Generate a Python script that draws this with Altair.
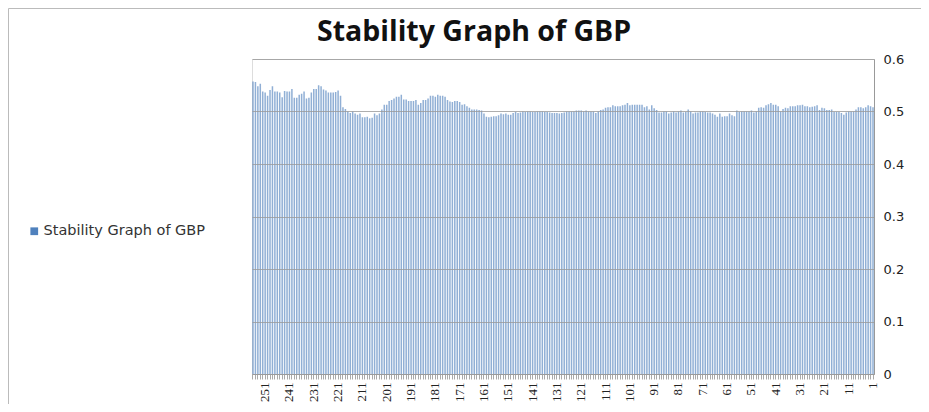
import altair as alt
import pandas as pd

# values read left-to-right (period 256 down to 1)
seg1 = [0.557, 0.556, 0.548, 0.553, 0.538, 0.536, 0.530, 0.541, 0.548, 0.538,
        0.538, 0.536, 0.527, 0.539, 0.538, 0.538, 0.543, 0.526, 0.526, 0.532,
        0.534, 0.538, 0.525, 0.526, 0.536, 0.543, 0.543, 0.550, 0.548, 0.542,
        0.540, 0.536, 0.536, 0.536, 0.537, 0.540, 0.530, 0.508, 0.505, 0.500,
        0.497, 0.500, 0.496, 0.494, 0.496, 0.489, 0.489, 0.490, 0.487, 0.488,
        0.496, 0.493, 0.496, 0.504, 0.513, 0.513, 0.520, 0.522, 0.525, 0.528,
        0.528, 0.532, 0.523, 0.523]
seg2 = [0.520, 0.520, 0.520, 0.522, 0.513, 0.516, 0.522, 0.522, 0.525, 0.530,
        0.530, 0.528, 0.532, 0.530, 0.530, 0.528, 0.522, 0.519, 0.518, 0.520,
        0.520, 0.518, 0.513, 0.514, 0.510, 0.507, 0.504, 0.504, 0.504, 0.503,
        0.502, 0.496, 0.490, 0.489, 0.490, 0.491, 0.491, 0.493, 0.496, 0.495,
        0.496, 0.494, 0.494, 0.497, 0.499, 0.497, 0.498, 0.500, 0.499, 0.500,
        0.500, 0.499, 0.499, 0.500, 0.500, 0.500, 0.499, 0.499, 0.498, 0.497,
        0.497, 0.497, 0.496, 0.497, 0.498]
seg3 = [0.500, 0.500, 0.500, 0.500, 0.502, 0.502, 0.502, 0.500, 0.502, 0.500,
        0.500, 0.500, 0.497, 0.500, 0.503, 0.504, 0.507, 0.508, 0.508, 0.512,
        0.510, 0.510, 0.510, 0.512, 0.513, 0.516, 0.512, 0.513, 0.513, 0.513,
        0.513, 0.513, 0.508, 0.510, 0.504, 0.512, 0.506, 0.503, 0.498, 0.498,
        0.500, 0.500, 0.496, 0.498, 0.500, 0.498, 0.500, 0.502, 0.498, 0.499,
        0.504, 0.500, 0.496, 0.498, 0.498, 0.500, 0.500, 0.499, 0.498, 0.498,
        0.496, 0.494, 0.490, 0.496, 0.490]
seg4 = [0.491, 0.491, 0.496, 0.493, 0.491, 0.502, 0.499, 0.500, 0.500, 0.500,
        0.500, 0.502, 0.498, 0.500, 0.507, 0.508, 0.507, 0.512, 0.514, 0.516,
        0.513, 0.513, 0.510, 0.500, 0.505, 0.507, 0.506, 0.510, 0.510, 0.510,
        0.512, 0.512, 0.513, 0.510, 0.510, 0.508, 0.509, 0.510, 0.512, 0.503,
        0.507, 0.506, 0.503, 0.503, 0.504, 0.499, 0.499, 0.499, 0.497, 0.494,
        0.498, 0.500, 0.500, 0.500, 0.504, 0.508, 0.508, 0.506, 0.508, 0.512,
        0.510, 0.508]

values = seg1 + seg2 + seg3 + seg4
n = len(values)
periods = list(range(n, 0, -1))
series_name = "Stability Graph of GBP"
chart_title = ["Stability Graph of GBP"]
y_ticks = [0, 0.1, 0.2, 0.3, 0.4, 0.5, 0.6]

df = pd.DataFrame({"period": periods, "value": values, "series": [series_name] * n})

W, H = 622, 315
PAD_L, PAD_T, PAD_R, PAD_B = 244, 51, 47, 30

bars = alt.Chart(df).mark_bar(
    fillOpacity=0.63, strokeWidth=0
).encode(
    x=alt.X("period:O", sort="descending",
            scale=alt.Scale(paddingInner=0.38, paddingOuter=0.1),
            axis=alt.Axis(title=None, labelAngle=-90,
                          labelExpr="(datum.value - 1) % 10 == 0 ? datum.label : ''",
                          labelFont="Liberation Serif", labelFontSize=13,
                          labelColor="#222", labelPadding=3,
                          tickSize=5, tickColor="#aaaaaa", domainColor="#999999",
                          labelOverlap=False, labelAlign="right", labelBaseline="middle")),
    y=alt.Y("value:Q", scale=alt.Scale(domain=[0, 0.6], nice=False),
            axis=alt.Axis(title=None, orient="right", values=y_ticks, format=".1~f",
                          labelFont="DejaVu Sans", labelFontSize=13, labelColor="#222",
                          labelPadding=9, tickSize=0, domainColor="#999999",
                          grid=True, gridColor="#9a9a9a", gridOpacity=0.8, gridWidth=1,
                          zindex=1)),
    color=alt.Color("series:N", scale=alt.Scale(range=["#4F81BD"]),
                    legend=alt.Legend(title=None, orient="none", legendX=-225, legendY=165,
                                      symbolType="square", symbolSize=60,
                                      symbolOpacity=1, symbolStrokeWidth=0,
                                      labelFont="DejaVu Sans", labelFontSize=14.5,
                                      labelLimit=400,
                                      labelOffset=2, labelColor="#333")),
)

frame_df = pd.DataFrame({"a": [0]})
frame = alt.Chart(frame_df).mark_rect(
    fill="white", fillOpacity=0, stroke="#bbbbbb", strokeWidth=1
).encode(
    x=alt.value(-PAD_L + 0.5), x2=alt.value(W + PAD_R + 20),
    y=alt.value(-PAD_T + 0.5), y2=alt.value(H + PAD_B + 20),
)

title_df = pd.DataFrame({"t": chart_title})
title = alt.Chart(title_df).mark_text(
    font="Open Sans", fontSize=28.5, fontWeight="bold", color="#111",
    align="center", baseline="middle"
).encode(
    text="t:N", x=alt.value(222), y=alt.value(-27),
)

chart = alt.layer(frame, bars, title).properties(
    width=W, height=H,
    autosize=alt.AutoSizeParams(type="none"),
    padding={"left": PAD_L, "top": PAD_T, "right": PAD_R, "bottom": PAD_B},
).configure_view(stroke=None).configure(background="white")

chart.save("out.html", embed_options={"renderer": "svg", "actions": False})
